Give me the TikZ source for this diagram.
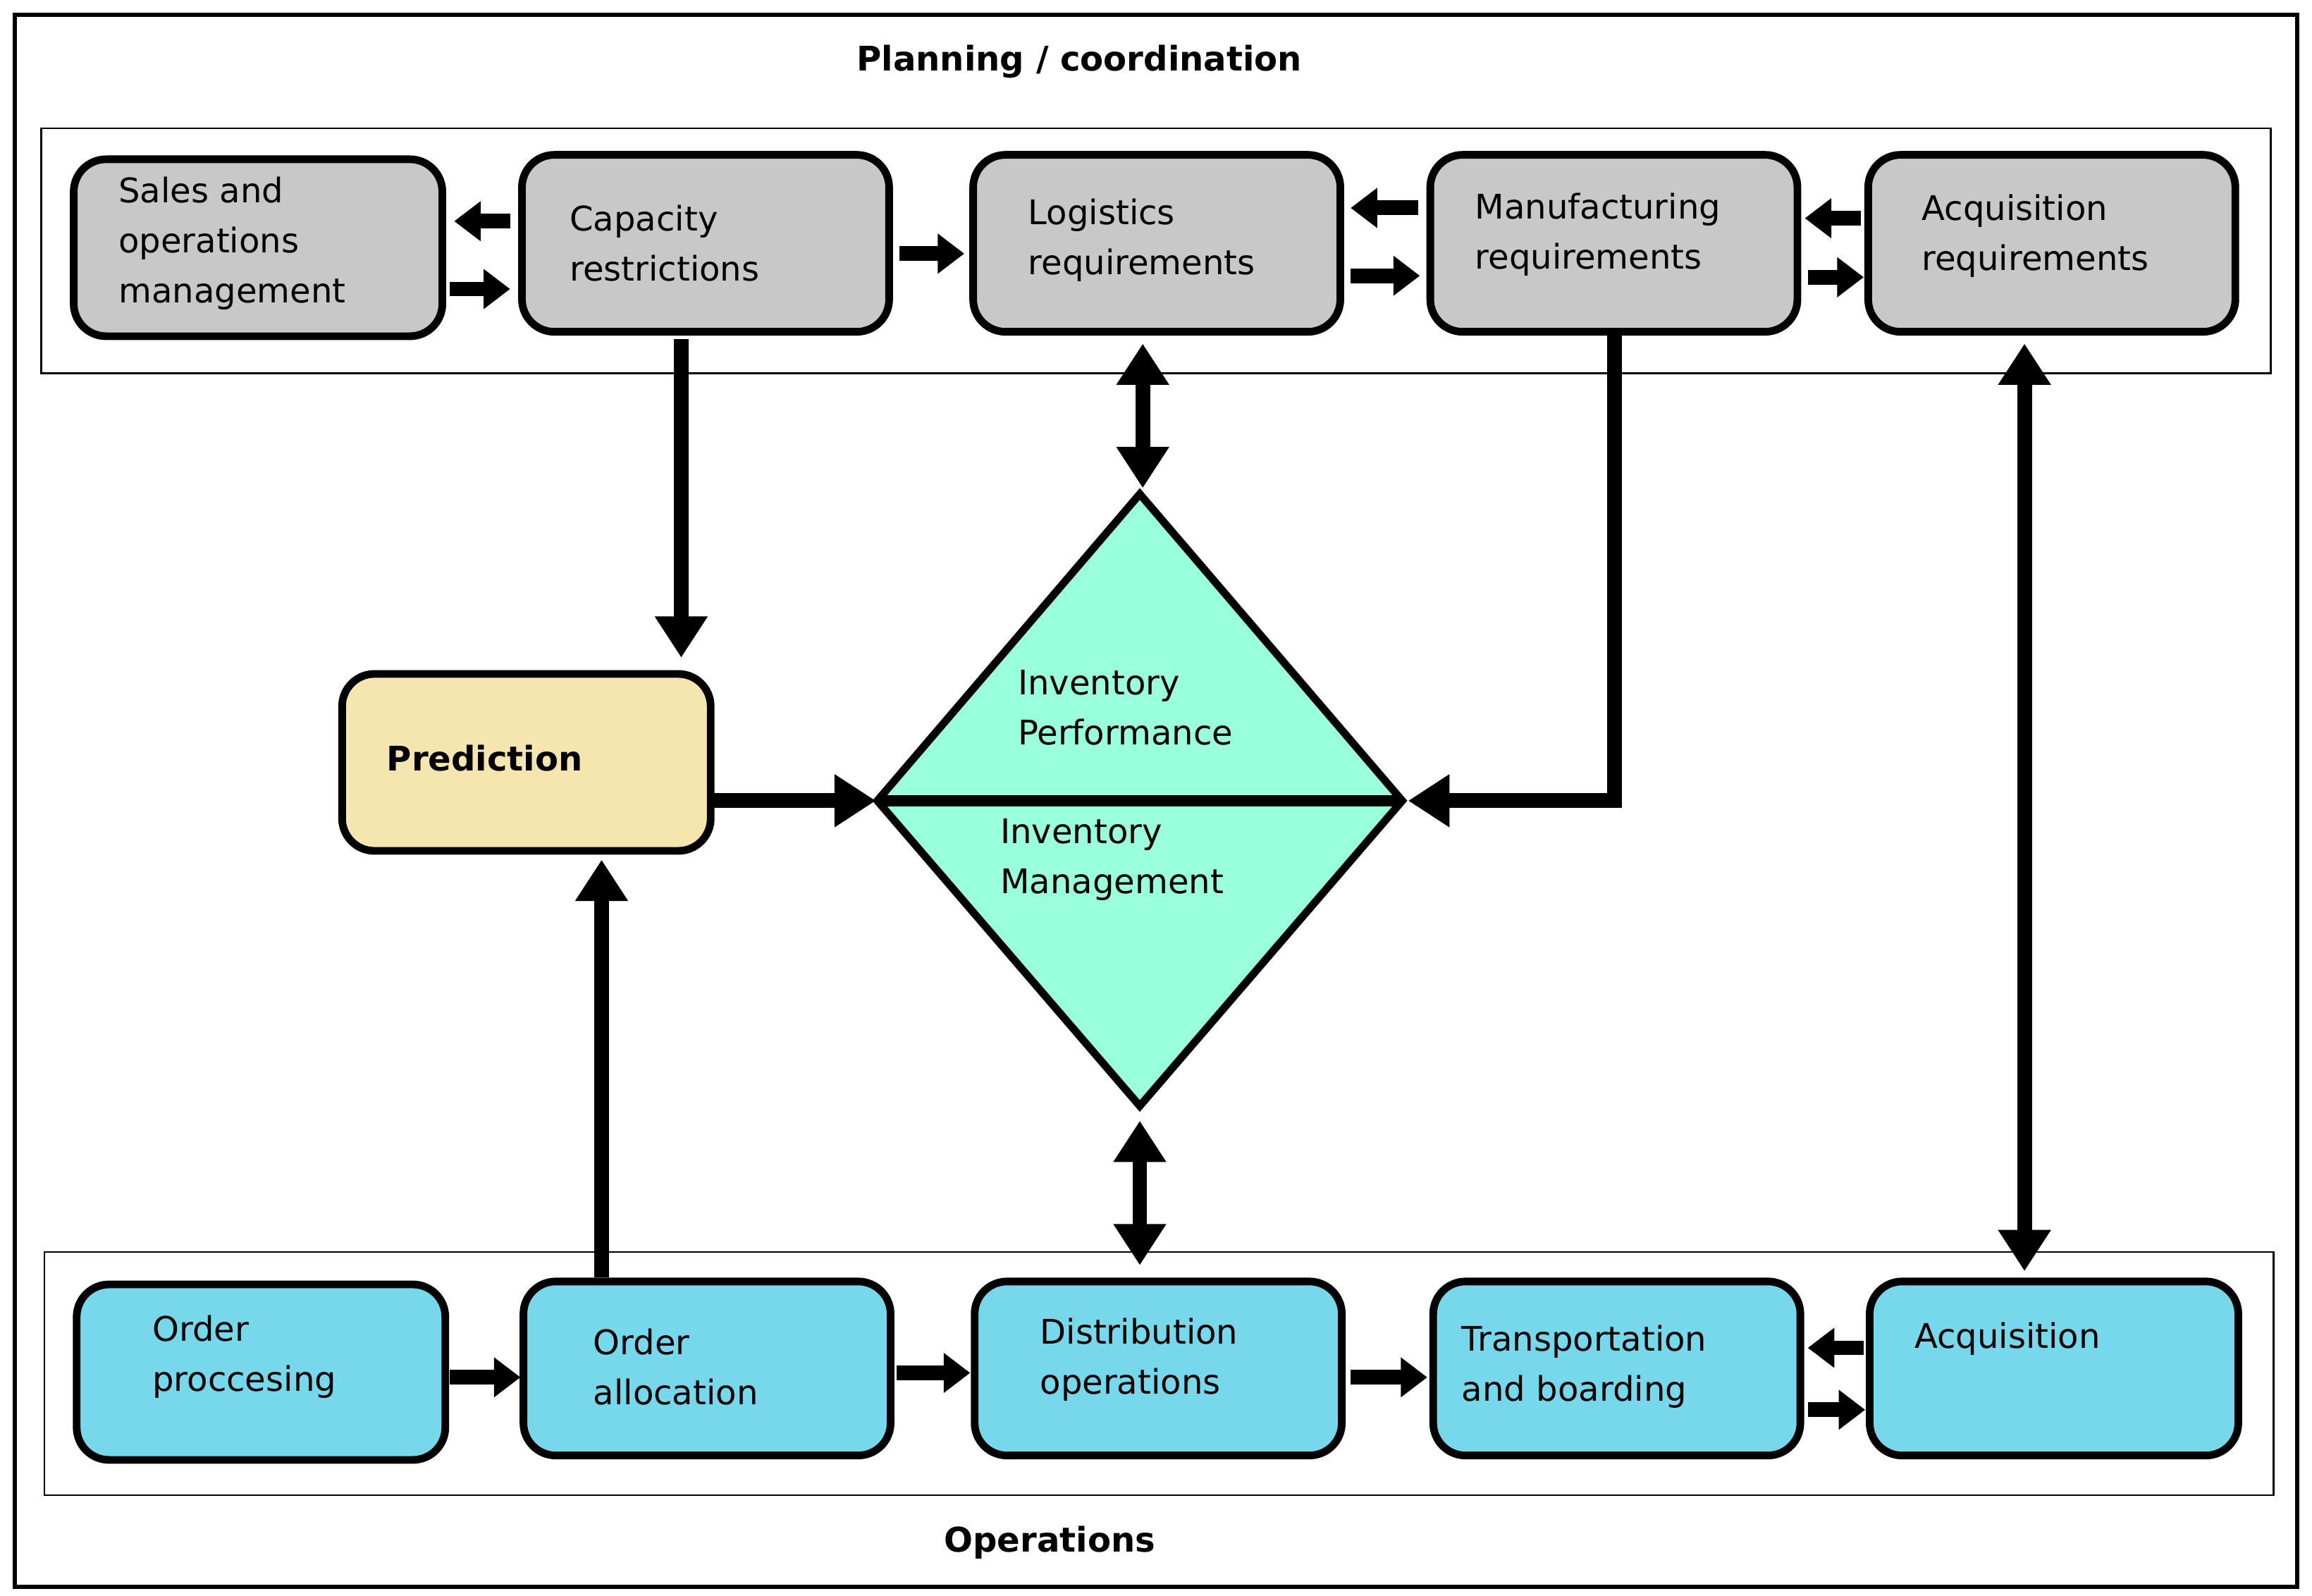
\documentclass[tikz,border=0pt]{standalone}
\usepackage{fontspec}
\setmainfont{DejaVu Sans}
\usetikzlibrary{arrows.meta}
\definecolor{gbox}{HTML}{C8C8C8}
\definecolor{bbox}{HTML}{77D8EC}
\definecolor{pbox}{HTML}{F5E6B0}
\definecolor{dia}{HTML}{99FFDD}
\begin{document}
\begin{tikzpicture}[x=0.5pt,y=-0.5pt,
  box/.style={draw=black,line width=2.6pt,rounded corners=11pt},
  lbl/.style={anchor=west,inner sep=0pt,align=left,font=\fontsize{11.5}{17}\selectfont},
  big/.style={line width=5pt,-{Triangle[length=14pt,width=17pt]}},
  bigd/.style={line width=5pt,{Triangle[length=14pt,width=17pt]}-{Triangle[length=14pt,width=17pt]}},
  sm/.style={line width=5pt,-{Triangle[length=9pt,width=13pt]}}]
\useasboundingbox (0,0) rectangle (1568,1082);
\fill[white] (0,0) rectangle (1568,1082);
\draw[line width=1.5pt] (10,10) rectangle (1558,1076);
\node[font=\bfseries\fontsize{11.5}{14}\selectfont] (title) at (732,42) {Planning / coordination};
\node[font=\bfseries\fontsize{11.5}{14}\selectfont] (ops) at (712,1046) {Operations};
\draw[line width=0.6pt] (28,87) rectangle (1540,253);
\draw[line width=0.6pt] (30,849) rectangle (1542,1014);
% top boxes
\draw[box,fill=gbox] (50,108) rectangle (300,228); \coordinate (s) at (175,168);
\draw[box,fill=gbox] (354,105) rectangle (603,225);
\draw[box,fill=gbox] (660,105) rectangle (909,225);
\draw[box,fill=gbox] (970,105) rectangle (1219,225);
\draw[box,fill=gbox] (1267,105) rectangle (1516,225);
\node[lbl] (t1) at (80,165) {Sales and\\operations\\management};
\node[lbl] (t2) at (386,165) {Capacity\\restrictions};
\node[lbl] (t3) at (697,163) {Logistics\\requirements};
\node[lbl] (t4) at (1000,159) {Manufacturing\\requirements};
\node[lbl] (t5) at (1303,160) {Acquisition\\requirements};
% bottom boxes
\draw[box,fill=bbox] (52,871) rectangle (302,990);
\draw[box,fill=bbox] (355,869) rectangle (604,987);
\draw[box,fill=bbox] (661,869) rectangle (910,987);
\draw[box,fill=bbox] (972,869) rectangle (1221,987);
\draw[box,fill=bbox] (1268,869) rectangle (1518,987);
\node[lbl] (b1) at (103,920) {Order\\proccesing};
\node[lbl] (b2) at (402,927) {Order\\allocation};
\node[lbl] (b3) at (705,922) {Distribution\\operations};
\node[lbl] (b4) at (991,927) {Transportation\\and boarding};
\node[lbl] (b5) at (1298,908) {Acquisition};
% prediction
\draw[box,fill=pbox] (232,457) rectangle (482,577);
\node[lbl,font=\bfseries\fontsize{11.5}{17}\selectfont] (pr) at (262,514) {Prediction};
% diamond
\draw[line width=2.6pt,fill=dia,line join=miter] (773,335) -- (951,543) -- (773,750) -- (595,543) -- cycle;
\draw[line width=4pt] (595,543) -- (951,543);
\node[lbl] (ip) at (690,480) {Inventory\\Performance};
\node[lbl] (im) at (678,583) {Inventory\\Management};
% short arrows top
\draw[sm] (346,150) -- (308,150);
\draw[sm] (305,196) -- (346,196);
\draw[sm] (610,172) -- (654,172);
\draw[sm] (962,141) -- (916,141);
\draw[sm] (916,187) -- (963,187);
\draw[sm] (1262,148) -- (1224,148);
\draw[sm] (1226,188) -- (1264,188);
% short arrows bottom
\draw[sm] (305,934) -- (353,934);
\draw[sm] (608,931) -- (658,931);
\draw[sm] (916,934) -- (968,934);
\draw[sm] (1264,914) -- (1226,914);
\draw[sm] (1226,956) -- (1265,956);
% long arrows
\draw[big] (462,230) -- (462,446);
\draw[bigd] (775,233) -- (775,331);
\draw[big] (1095,226) -- (1095,543) -- (955,543);
\draw[big] (482,543) -- (594,543);
\draw[big] (408,866) -- (408,583);
\draw[bigd] (773,760) -- (773,858);
\draw[bigd] (1373,233) -- (1373,862);
\end{tikzpicture}
\end{document}
